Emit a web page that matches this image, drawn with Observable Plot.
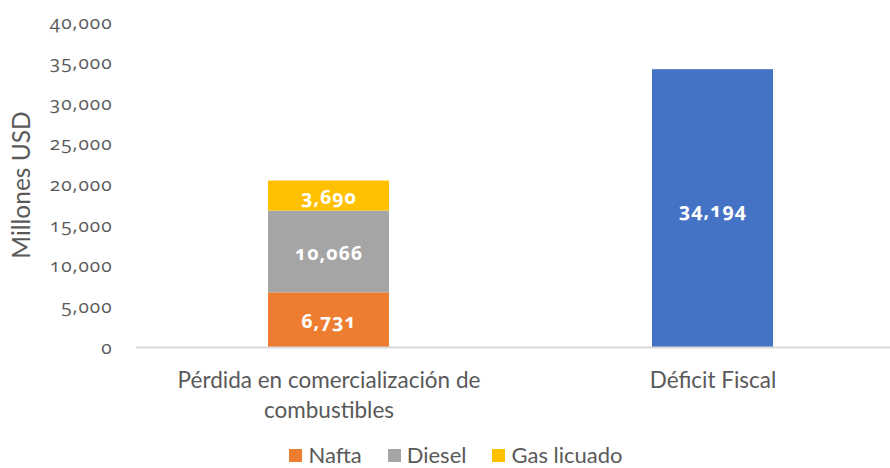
<!DOCTYPE html>
<html>
<head>
<meta charset="utf-8">
<script src="https://cdn.jsdelivr.net/npm/d3@7"></script>
<script src="https://cdn.jsdelivr.net/npm/@observablehq/plot@0.6"></script>
<style>
  html, body { margin: 0; padding: 0; background: #fff; }
  #chart { width: 890px; }
  .legend { display: flex; justify-content: center; align-items: center; height: 26px; padding-top: 2px;
    padding-left: 22px; line-height: 26px;
    font-family: Lato, sans-serif; font-size: 22px; color: #595959; }
  .legend .item { display: flex; align-items: center; margin: 0 13px; }
  .legend .sw { width: 13px; height: 13px; margin-right: 6px; }
</style>
</head>
<body>
<div id="chart"></div>
<script>
const categories = ["Pérdida en comercialización de combustibles", "Déficit Fiscal"];
const xTickLabels = ["Pérdida en comercialización de\ncombustibles", "Déficit Fiscal"];
const stackSeries = ["Nafta", "Diesel", "Gas licuado"];
const stackValues = [6731, 10066, 3690];
const deficitSeries = "Déficit Fiscal";
const deficitValue = 34194;
const yTicks = [0, 5000, 10000, 15000, 20000, 25000, 30000, 35000, 40000];
const yLabel = "Millones USD";

const colors = ["#ED7D31", "#A5A5A5", "#FFC000", "#4472C4"];

const rows = [
  ...stackSeries.map((s, i) => ({category: categories[0], series: s, value: stackValues[i]})),
  {category: categories[1], series: deficitSeries, value: deficitValue}
];

const fmt = d3.format(",");
const numFont = "'Open Sans', Lato, sans-serif";
const txtFont = "Lato, sans-serif";

const chart = Plot.plot({
  width: 890,
  height: 440,
  marginLeft: 136,
  marginRight: 0,
  marginTop: 22,
  marginBottom: 93,
  style: {fontFamily: txtFont, color: "#595959", background: "#fff"},
  x: {domain: categories, range: [136, 904], paddingInner: 0.685, paddingOuter: 0.3425, label: null},
  y: {domain: [0, 40000], label: null},
  color: {domain: [...stackSeries, deficitSeries], range: colors},
  marks: [
    Plot.axisY({ticks: yTicks, tickSize: 0, tickPadding: 24, tickFormat: fmt, fontSize: 19,
      fontFamily: numFont, fill: "#595959", label: null, className: "num"}),
    Plot.axisX({tickSize: 0, tickPadding: 19, fontSize: 22.5, lineHeight: 1.33, fill: "#595959",
      tickFormat: (d) => xTickLabels[categories.indexOf(d)], label: null}),
    Plot.text([yLabel], {frameAnchor: "left", dx: -114, rotate: -90, textAnchor: "middle",
      fontSize: 24.5, fill: "#595959"}),
    Plot.barY(rows, {x: "category", y: "value", fill: "series"}),
    Plot.ruleY([0], {stroke: "#D9D9D9", strokeWidth: 2}),
    Plot.text(rows, Plot.stackY({x: "category", y: "value", text: d => fmt(d.value),
      fill: "white", fontWeight: "bold", fontSize: 19.5, fontFamily: numFont, dy: 2, className: "num"}))
  ]
});
chart.querySelectorAll(".num text, text.num, g.num text").forEach(t => {
  t.style.fontFeatureSettings = "'onum' 1";
  t.style.letterSpacing = "1px";
});
document.getElementById("chart").appendChild(chart);

const legend = document.createElement("div");
legend.className = "legend";
stackSeries.forEach((s, i) => {
  const item = document.createElement("span");
  item.className = "item";
  const sw = document.createElement("span");
  sw.className = "sw";
  sw.style.background = colors[i];
  const lab = document.createElement("span");
  lab.textContent = s;
  item.appendChild(sw); item.appendChild(lab);
  legend.appendChild(item);
});
document.getElementById("chart").appendChild(legend);
</script>
</body>
</html>
